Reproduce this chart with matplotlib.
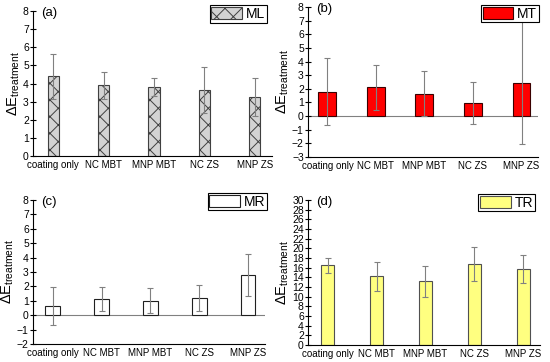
# -*- coding: utf-8 -*-
import numpy as np
import matplotlib
matplotlib.use('Agg')
import matplotlib.pyplot as plt

plt.rcParams['font.family'] = ['Liberation Sans', 'DejaVu Sans']
plt.rcParams['mathtext.fontset'] = 'custom'
plt.rcParams['mathtext.rm'] = 'Liberation Sans'
plt.rcParams['mathtext.it'] = 'Liberation Sans:italic'
plt.rcParams['hatch.linewidth'] = 0.7
plt.rcParams['hatch.color'] = '#404040'

# Datos
categorias = ['coating only', 'NC MBT', 'MNP MBT', 'NC ZS', 'MNP ZS']

ml_valor = [4.40, 3.90, 3.80, 3.62, 3.25]
ml_error = [1.25, 0.73, 0.50, 1.27, 1.07]

mt_valor = [1.78, 2.10, 1.65, 0.97, 2.45]
mt_error = [2.45, 1.68, 1.65, 1.53, 4.53]

mr_valor = [0.67, 1.13, 1.02, 1.20, 2.78]
mr_error = [1.32, 0.82, 0.85, 0.90, 1.47]

tr_valor = [16.5, 14.2, 13.15, 16.8, 15.75]
tr_error = [1.5, 3.0, 3.2, 3.5, 2.9]

W, H = 550.0, 362.0

def caja(izq, der, arriba, abajo):
    # posicion de los ejes en pixeles -> fraccion de figura
    return [izq / W, (H - abajo) / H, (der - izq) / W, (abajo - arriba) / H]

paneles = [
    # (valores, errores, nombre, letra, ejes, ylim, paso, ancho, estilo barra, ancla leyenda)
    (ml_valor, ml_error, 'ML', '(a)', caja(33, 272, 11, 156), (0, 8), 1, 0.22,
     dict(color='#d3d3d3', edgecolor='#404040', hatch='xx'), (0.979, 1.04)),
    (mt_valor, mt_error, 'MT', '(b)', caja(308, 538, 7, 157), (-3, 8), 1, 0.37,
     dict(color='#ff0000', edgecolor='#3a0000'), (1.004, 1.013)),
    (mr_valor, mr_error, 'MR', '(c)', caja(33, 265, 200, 344), (-2, 8), 1, 0.29,
     dict(color='white', edgecolor='#202020'), (1.009, 1.049)),
    (tr_valor, tr_error, 'TR', '(d)', caja(308, 540, 200, 345), (0, 30), 2, 0.27,
     dict(color='#ffff80', edgecolor='#505050'), (0.978, 1.041)),
]

fig = plt.figure(figsize=(5.5, 3.62), dpi=100)
x = np.arange(1, len(categorias) + 1)

for valores, errores, nombre, letra, pos, ylim, paso, ancho, estilo, ancla in paneles:
    ax = fig.add_axes(pos)
    ax.bar(x, valores, width=ancho, linewidth=0.8, label=nombre, zorder=2, **estilo)
    ax.errorbar(x, valores, yerr=errores, fmt='none', ecolor='#808080',
                elinewidth=0.8, capsize=2, capthick=0.8, zorder=3)
    if ylim[0] < 0:
        ax.axhline(0, color='#808080', lw=0.8, zorder=1)
    ax.set_xlim(0.6, 5.34)
    ax.set_ylim(*ylim)
    ax.set_yticks(np.arange(ylim[0], ylim[1] + paso, paso))
    ax.set_xticks(x)
    ax.set_xticklabels(categorias)
    for lado in ['top', 'right']:
        ax.spines[lado].set_visible(False)
    for lado in ['left', 'bottom']:
        ax.spines[lado].set_linewidth(0.8)
    ax.tick_params(axis='y', direction='inout', length=4, width=0.8, labelsize=7.5, pad=1)
    ax.tick_params(axis='x', length=0, labelsize=7, pad=3)
    ax.set_ylabel(r'$\Delta\mathrm{E}_{\mathrm{treatment}}$', fontsize=10.5, labelpad=1)
    ax.text(0.035, 0.985, letra, transform=ax.transAxes, fontsize=9.5, va='center', ha='left')
    ax.legend(loc='upper right', bbox_to_anchor=ancla, fontsize=10, frameon=True,
              fancybox=False, edgecolor='black', framealpha=1, borderaxespad=0,
              borderpad=0.12, handlelength=2.2, handleheight=0.95, handletextpad=0.3)
    ax.get_legend().get_frame().set_linewidth(0.8)

fig.savefig('out.png', dpi=100)
